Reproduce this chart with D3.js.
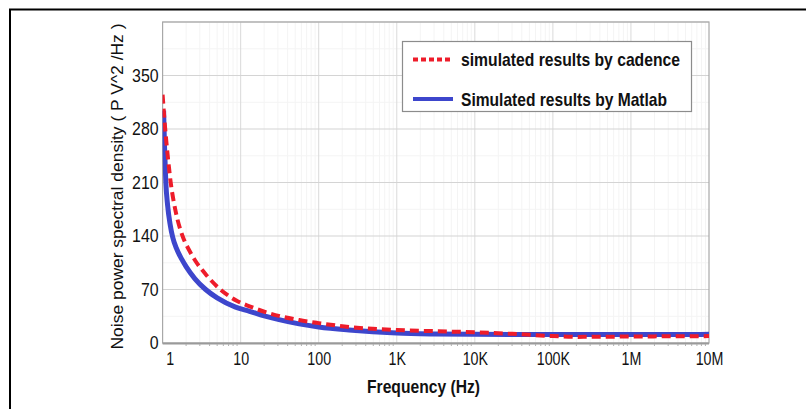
<!DOCTYPE html>
<html><head><meta charset="utf-8">
<script src="https://cdn.jsdelivr.net/npm/d3@7"></script>
<style>body{margin:0;background:#fff;} svg{display:block;font-family:"Liberation Sans",Arial,sans-serif;}</style>
</head><body>
<svg id="c" width="806" height="409"></svg>
<script>
// ---- data ----
const xTickValues = [1, 10, 100, 1e3, 1e4, 1e5, 1e6, 1e7];
const xTickLabels = ["1", "10", "100", "1K", "10K", "100K", "1M", "10M"];
const yTickValues = [0, 70, 140, 210, 280, 350];

const cadenceFreq = [1.0, 1.06, 1.12, 1.2, 1.27, 1.4, 1.5, 1.77, 2.2, 2.65, 3.56, 5.5, 9, 13, 23, 56, 100, 245, 1000, 3000, 1e4, 3e4, 1e5, 2e5, 1e6, 1e7];
const cadenceVals = [325, 290, 262, 232, 210, 183, 168, 142, 121, 107, 90, 70, 55, 48, 39, 30, 26, 21, 17, 15.5, 14, 12, 9, 8, 8.5, 9];

const matlabFreq = [1.03, 1.06, 1.1, 1.16, 1.25, 1.35, 1.5, 1.75, 2, 2.6, 3.56, 5, 8.6, 13, 20, 31, 56, 100, 244, 1000, 3000, 1e4, 1e5, 1e6, 1e7];
const matlabVals = [304, 255, 210, 180, 155, 138, 124, 110, 100, 84, 70, 59, 47, 41.5, 35.5, 30.5, 25, 21, 17, 13, 11.8, 11.3, 11, 11, 11.3];

const seriesNames = ["simulated results by cadence", "Simulated results by Matlab"];
const xTitle = "Frequency (Hz)";
const yTitle = "Noise power spectral density ( P V^2 /Hz )";

// ---- layout ----
const svg = d3.select("#c");
const L = 162.6, R = 709, T = 22, B = 343;
const x = d3.scaleLog().domain([1, 1e7]).range([L, R]);
const y = d3.scaleLinear().domain([0, 420]).range([B, T]);

function squeeze(sel, ratio) {
  sel.each(function () {
    const w = this.getComputedTextLength();
    d3.select(this).attr("textLength", w * ratio).attr("lengthAdjust", "spacingAndGlyphs");
  });
}

// outer frame
svg.append("rect").attr("x", 10).attr("y", 9.5).attr("width", 900).attr("height", 500)
  .attr("fill", "none").attr("stroke", "#000").attr("stroke-width", 2);

const g = svg.append("g");

// minor vertical grid
const minor = [];
for (let d = 0; d < 7; d++) for (let k = 2; k <= 9; k++) minor.push(k * Math.pow(10, d));
g.append("g").selectAll("line").data(minor).join("line")
  .attr("x1", d => x(d)).attr("x2", d => x(d)).attr("y1", T).attr("y2", B)
  .attr("stroke", "#f4f4f4").attr("stroke-width", 1);
// minor horizontal grid
const yMinor = d3.range(35, 420, 70);
g.append("g").selectAll("line").data(yMinor).join("line")
  .attr("x1", L).attr("x2", R).attr("y1", d => y(d)).attr("y2", d => y(d))
  .attr("stroke", "#f4f4f4").attr("stroke-width", 1);

// major grid
g.append("g").selectAll("line").data(xTickValues.slice(1, -1)).join("line")
  .attr("x1", d => x(d)).attr("x2", d => x(d)).attr("y1", T).attr("y2", B)
  .attr("stroke", "#dadada").attr("stroke-width", 1);
g.append("g").selectAll("line").data(yTickValues.slice(1).concat([420])).join("line")
  .attr("x1", L).attr("x2", R).attr("y1", d => y(d)).attr("y2", d => y(d))
  .attr("stroke", "#d4d4d4").attr("stroke-width", 1.2);

// plot border
g.append("rect").attr("x", L).attr("y", T).attr("width", R - L).attr("height", B - T)
  .attr("fill", "none").attr("stroke", "#a8a8a8").attr("stroke-width", 1.2);
g.append("line").attr("x1", L).attr("x2", R).attr("y1", B + 0.5).attr("y2", B + 0.5)
  .attr("stroke", "#9a9a9a").attr("stroke-width", 2);

// minor ticks below x axis
g.append("g").selectAll("line").data(minor).join("line")
  .attr("x1", d => x(d)).attr("x2", d => x(d)).attr("y1", B + 1).attr("y2", B + 3)
  .attr("stroke", "#b0b0b0").attr("stroke-width", 1);

// axes via d3
const xAxis = d3.axisBottom(x).tickValues(xTickValues).tickFormat((d, i) => xTickLabels[i]).tickSize(0).tickPadding(9);
const xa = svg.append("g").attr("transform", `translate(0,${B})`).call(xAxis);
xa.select(".domain").remove();
xa.selectAll("text").attr("font-size", 19).attr("fill", "#111").attr("font-family", "'Liberation Sans',Arial,sans-serif");
squeeze(xa.selectAll("text"), 0.75);
xa.selectAll(".tick").filter((d, i) => i === 0).select("text").attr("dx", 7);

const yAxis = d3.axisLeft(y).tickValues(yTickValues).tickSize(0).tickPadding(4);
const ya = svg.append("g").attr("transform", `translate(${L},0)`).call(yAxis);
ya.select(".domain").remove();
ya.selectAll("text").attr("font-size", 18.5).attr("fill", "#111").attr("font-family", "'Liberation Sans',Arial,sans-serif");
squeeze(ya.selectAll("text"), 0.86);

// curves
const line = d3.line().x(d => x(d[0])).y(d => y(d[1])).curve(d3.curveMonotoneX);
const cadence = cadenceFreq.map((f, i) => [f, cadenceVals[i]]);
const matlab = matlabFreq.map((f, i) => [f, matlabVals[i]]);
const clip = svg.append("clipPath").attr("id", "pc").append("rect")
  .attr("x", L).attr("y", T).attr("width", R - L).attr("height", B - T);
const curves = svg.append("g").attr("clip-path", "url(#pc)");
curves.append("path").datum(matlab).attr("d", line).attr("fill", "none")
  .attr("stroke", "#3d46cc").attr("stroke-width", 5).attr("stroke-linejoin", "round");
curves.append("path").datum(cadence).attr("d", line).attr("fill", "none")
  .attr("stroke", "#ee1c2a").attr("stroke-width", 4).attr("stroke-dasharray", "9,5");

// legend
const lg = svg.append("g");
lg.append("rect").attr("x", 402.5).attr("y", 41.5).attr("width", 289).attr("height", 70)
  .attr("fill", "#fff").attr("stroke", "#8c8c8c").attr("stroke-width", 1.2);
lg.append("line").attr("x1", 413).attr("x2", 452).attr("y1", 59.5).attr("y2", 59.5)
  .attr("stroke", "#ee1c2a").attr("stroke-width", 4).attr("stroke-dasharray", "5,3");
lg.append("line").attr("x1", 413).attr("x2", 453).attr("y1", 99).attr("y2", 99)
  .attr("stroke", "#3d46cc").attr("stroke-width", 4);
const lt = lg.selectAll("text.lt").data(seriesNames).join("text").attr("class", "lt")
  .attr("x", 461).attr("y", (d, i) => i === 0 ? 66 : 106)
  .attr("font-size", 19).attr("font-weight", "bold").attr("fill", "#111").text(d => d);
lt.attr("textLength", (d, i) => i === 0 ? 219 : 206).attr("lengthAdjust", "spacingAndGlyphs");

// axis titles
svg.append("text").attr("x", 423.5).attr("y", 393).attr("text-anchor", "middle")
  .attr("font-size", 19).attr("font-weight", "bold").attr("fill", "#111")
  .attr("textLength", 113).attr("lengthAdjust", "spacingAndGlyphs").text(xTitle);
svg.append("text").attr("transform", "translate(123,186.5) rotate(-90)").attr("text-anchor", "middle")
  .attr("font-size", 16).attr("fill", "#111")
  .attr("textLength", 326).attr("lengthAdjust", "spacingAndGlyphs").text(yTitle);
</script>
</body></html>
